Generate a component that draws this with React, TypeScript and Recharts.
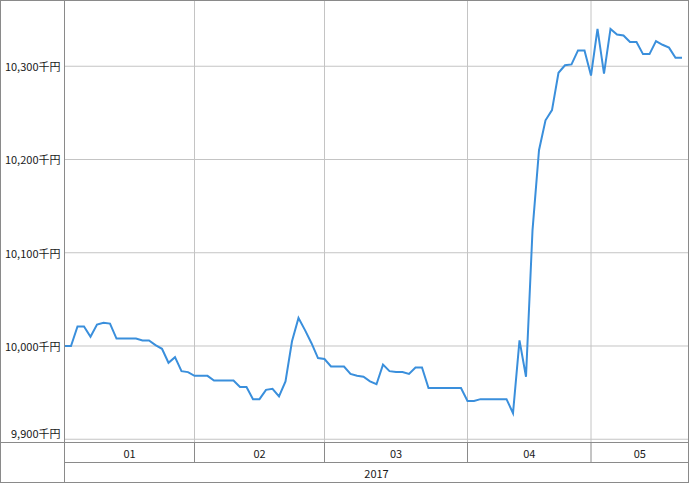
import React from 'react';
import { LineChart, Line, XAxis, YAxis, CartesianGrid, ReferenceLine } from 'recharts';

// Daily values (千円), one per business day, Jan–May 2017
const values: number[] = [
  10000, 10000, 10021, 10021, 10010, 10023, 10025, 10024, 10008, 10008,
  10008, 10008, 10006, 10006, 10001, 9997, 9982, 9988, 9973, 9972,
  9968, 9968, 9968, 9963, 9963, 9963, 9963, 9956, 9956, 9943,
  9943, 9953, 9954, 9946, 9962, 10005, 10030, 10017, 10003, 9987,
  9986, 9978, 9978, 9978, 9970, 9968, 9967, 9962, 9959, 9980,
  9973, 9972, 9972, 9970, 9977, 9977, 9955, 9955, 9955, 9955,
  9955, 9955, 9941, 9941, 9943, 9943, 9943, 9943, 9943, 9928,
  10006, 9967, 10124, 10210, 10242, 10253, 10293, 10301, 10302, 10317,
  10317, 10290, 10340, 10292, 10340, 10334, 10333, 10326, 10326, 10313,
  10313, 10327, 10323, 10320, 10309, 10309,
];

const monthLabels: string[] = ['01', '02', '03', '04', '05'];
const monthStarts: number[] = [0, 20, 40, 62, 81];
const totalSlots = 96;
const yearLabels: string[] = ['2017'];
const yTicks: number[] = [9900, 10000, 10100, 10200, 10300];
const yDomain: [number, number] = [9896.5, 10370.5];

const data = values.map((v, i) => ({ i, v }));

const monthEnds = [...monthStarts.slice(1), totalSlots];
const monthMids = monthStarts.map((s, k) => (s + monthEnds[k]) / 2);
const monthTicks = [...monthStarts, ...monthMids].sort((a, b) => a - b);
const yearTicks = [totalSlots / 2];

const FONT = '"Noto Sans CJK JP", "Noto Sans", sans-serif';
const FRAME = '#8a8a8a';
const GRID = '#c4c4c4';
const TEXT = '#1a1a1a';
const LINE = '#3a8fdc';

const MonthTick = (props: any) => {
  const { x, y, payload } = props;
  const v = payload.value;
  const startIdx = monthStarts.indexOf(v);
  if (startIdx >= 0) {
    return <line x1={x} x2={x} y1={y} y2={y + 20} stroke={FRAME} strokeWidth={1} />;
  }
  const k = monthMids.indexOf(v);
  return (
    <text x={x} y={y + 10} textAnchor="middle" dominantBaseline="central" fontSize={11} fontFamily={FONT} fill={TEXT}>
      {monthLabels[k]}
    </text>
  );
};

const YearTick = (props: any) => {
  const { x, y, payload } = props;
  const k = yearTicks.indexOf(payload.value);
  return (
    <text x={x} y={y + 10} textAnchor="middle" dominantBaseline="central" fontSize={11} fontFamily={FONT} fill={TEXT}>
      {yearLabels[k]}
    </text>
  );
};

const YTick = (props: any) => {
  const { x, y, payload } = props;
  const v = payload.value as number;
  const shift = v === yTicks[0] ? -6 : 0;
  return (
    <text x={x} y={y + shift} textAnchor="end" dominantBaseline="central" fontSize={11} fontFamily={FONT} fill={TEXT}>
      {v.toLocaleString('en-US') + '千円'}
    </text>
  );
};

export default function App() {
  return (
    <div style={{ position: 'absolute', left: 0, top: 0, width: 689, height: 483, background: '#fff' }}>
      <LineChart width={689} height={483} data={data} margin={{ top: 0.5, right: 0.5, bottom: 0.5, left: 0 }}>
        <CartesianGrid vertical={false} stroke={GRID} xAxisId="main" yAxisId="y" />
        <XAxis
          xAxisId="main"
          dataKey="i"
          type="number"
          domain={[0, totalSlots]}
          ticks={monthTicks}
          interval={0}
          height={20}
          tickSize={0}
          tickMargin={0}
          tickLine={false}
          tick={<MonthTick />}
          axisLine={{ stroke: FRAME }}
          allowDataOverflow
        />
        <XAxis
          xAxisId="year"
          dataKey="i"
          type="number"
          domain={[0, totalSlots]}
          ticks={yearTicks}
          interval={0}
          height={20}
          tickSize={0}
          tickMargin={0}
          tickLine={false}
          tick={<YearTick />}
          axisLine={{ stroke: FRAME }}
          allowDataOverflow
        />
        <YAxis
          yAxisId="y"
          type="number"
          domain={yDomain}
          ticks={yTicks}
          interval={0}
          width={64.5}
          tickSize={0}
          tickMargin={4}
          tickLine={false}
          tick={<YTick />}
          axisLine={{ stroke: FRAME }}
          allowDataOverflow
        />
        {monthStarts.slice(1).map((s) => (
          <ReferenceLine key={s} x={s} xAxisId="main" yAxisId="y" stroke={GRID} strokeWidth={1} />
        ))}
        <Line
          xAxisId="main"
          yAxisId="y"
          type="linear"
          dataKey="v"
          stroke={LINE}
          strokeWidth={2}
          dot={false}
          activeDot={false}
          isAnimationActive={false}
        />
      </LineChart>
      <div style={{ position: 'absolute', left: 0, top: 0, width: 689, height: 483, boxSizing: 'border-box', border: `1px solid ${FRAME}`, pointerEvents: 'none' }} />
      <div style={{ position: 'absolute', left: 64, top: 0, width: 1, height: 483, background: FRAME, pointerEvents: 'none' }} />
      <div style={{ position: 'absolute', left: 0, top: 442, width: 64, height: 1, background: FRAME, pointerEvents: 'none' }} />
    </div>
  );
}
